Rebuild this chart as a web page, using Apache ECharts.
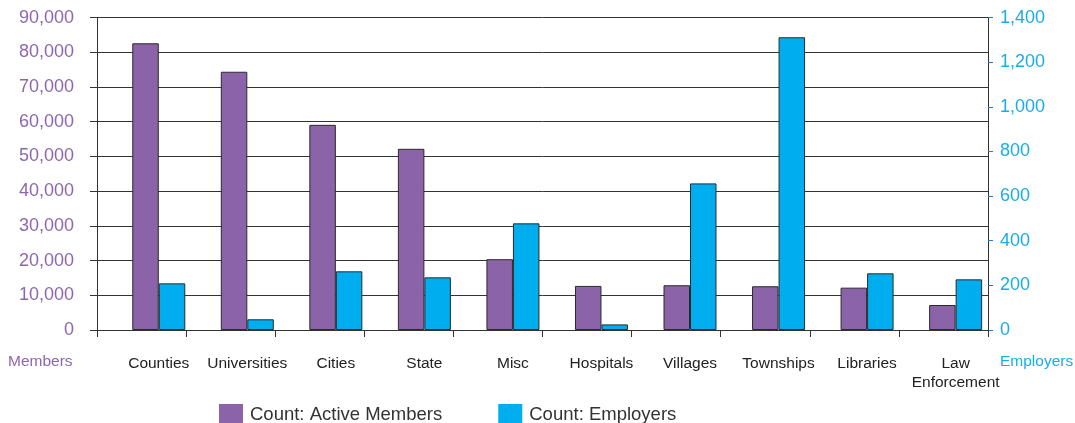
<!DOCTYPE html>
<html>
<head>
<meta charset="utf-8">
<script src="https://cdn.jsdelivr.net/npm/echarts@6/dist/echarts.min.js"></script>
<style>
  html, body { margin: 0; padding: 0; background: #fff; }
  #chart { width: 1075px; height: 423px; }
</style>
</head>
<body>
<div id="chart"></div>
<script>
// Member and employer counts by employer type
const categories = ['Counties', 'Universities', 'Cities', 'State', 'Misc', 'Hospitals',
  'Villages', 'Townships', 'Libraries', 'Law\nEnforcement'];
const activeMembers = [82600, 74400, 59100, 52200, 20400, 12700, 12900, 12600, 12200, 7200];
const employers = [209, 48, 263, 236, 478, 25, 657, 1312, 254, 227];

const membersAxis = { min: 0, max: 90000, interval: 10000 };
const employersAxis = { min: 0, max: 1400, interval: 200 };

const FONT = '"Liberation Sans", Arial, Helvetica, sans-serif';
const PURPLE = '#8b63a9';
const PURPLE_TEXT = '#8e66ae';
const CYAN = '#00aeef';
const CYAN_TEXT = '#19ade8';
const LINE = '#333333';

const fmt = v => Number(v).toLocaleString('en-US');

const plotTop = 17.6, plotBottom = 93;

const chart = echarts.init(document.getElementById('chart'), null, { renderer: 'canvas' });
chart.setOption({
  animation: false,
  backgroundColor: '#ffffff',
  textStyle: { fontFamily: FONT },
  grid: [
    // frame with axes, gridlines and category ticks
    { left: 97, right: 87, top: plotTop, bottom: plotBottom, containLabel: false },
    // bar placement grid
    { left: 114.5, right: 75.1, top: plotTop, bottom: plotBottom, containLabel: false }
  ],
  legend: {
    left: 219,
    top: 404,
    padding: 0,
    itemWidth: 24,
    itemHeight: 22,
    itemGap: 56,
    icon: 'rect',
    itemStyle: { borderWidth: 0 },
    textStyle: { fontFamily: FONT, fontSize: 18.5, color: '#333333', padding: [0, 0, 0, 2] },
    data: ['Count: Active Members', 'Count: Employers']
  },
  xAxis: [
    {
      type: 'category',
      gridIndex: 0,
      data: categories,
      boundaryGap: true,
      axisLine: { show: true, lineStyle: { color: LINE, width: 1 } },
      axisTick: { show: true, length: 7, inside: false, lineStyle: { color: LINE, width: 1 } },
      axisLabel: { show: false },
      splitLine: { show: false }
    },
    {
      type: 'category',
      gridIndex: 1,
      data: categories,
      boundaryGap: true,
      axisLine: { show: false },
      axisTick: { show: false },
      axisLabel: {
        show: true,
        interval: 0,
        margin: 24,
        fontFamily: FONT,
        fontSize: 15.5,
        lineHeight: 19,
        color: '#222222'
      },
      splitLine: { show: false }
    }
  ],
  yAxis: [
    {
      type: 'value',
      gridIndex: 0,
      position: 'left',
      min: membersAxis.min, max: membersAxis.max, interval: membersAxis.interval,
      axisLine: { show: true, lineStyle: { color: LINE, width: 1 } },
      axisTick: { show: true, length: 7, lineStyle: { color: LINE, width: 1 } },
      axisLabel: { margin: 23, fontFamily: FONT, fontSize: 18, color: PURPLE_TEXT, formatter: fmt },
      splitLine: { show: true, lineStyle: { color: LINE, width: 1 } }
    },
    {
      type: 'value',
      gridIndex: 0,
      position: 'right',
      min: employersAxis.min, max: employersAxis.max, interval: employersAxis.interval,
      axisLine: { show: true, lineStyle: { color: LINE, width: 1 } },
      axisTick: { show: true, length: 5, lineStyle: { color: '#2a78c4', width: 1 } },
      axisLabel: { margin: 12, fontFamily: FONT, fontSize: 18, color: CYAN_TEXT, formatter: fmt },
      splitLine: { show: false }
    },
    {
      type: 'value', gridIndex: 1, show: false,
      min: membersAxis.min, max: membersAxis.max, interval: membersAxis.interval,
      splitLine: { show: false }
    },
    {
      type: 'value', gridIndex: 1, show: false,
      min: employersAxis.min, max: employersAxis.max, interval: employersAxis.interval,
      splitLine: { show: false }
    }
  ],
  graphic: [
    {
      type: 'text', left: 8, top: 354,
      style: { text: 'Members', font: '15.5px ' + FONT, fill: PURPLE_TEXT }
    },
    {
      type: 'text', left: 1000, top: 354,
      style: { text: 'Employers', font: '15.5px ' + FONT, fill: CYAN_TEXT }
    }
  ],
  series: [
    {
      name: 'Count: Active Members',
      type: 'bar',
      xAxisIndex: 1,
      yAxisIndex: 2,
      data: activeMembers,
      barWidth: 26.5,
      barGap: '0%',
      itemStyle: { color: PURPLE, borderColor: '#2a2a2a', borderWidth: 1 }
    },
    {
      name: 'Count: Employers',
      type: 'bar',
      xAxisIndex: 1,
      yAxisIndex: 3,
      data: employers,
      barWidth: 26.5,
      barGap: '0%',
      itemStyle: { color: CYAN, borderColor: '#2a2a2a', borderWidth: 1 }
    }
  ]
});
</script>
</body>
</html>
